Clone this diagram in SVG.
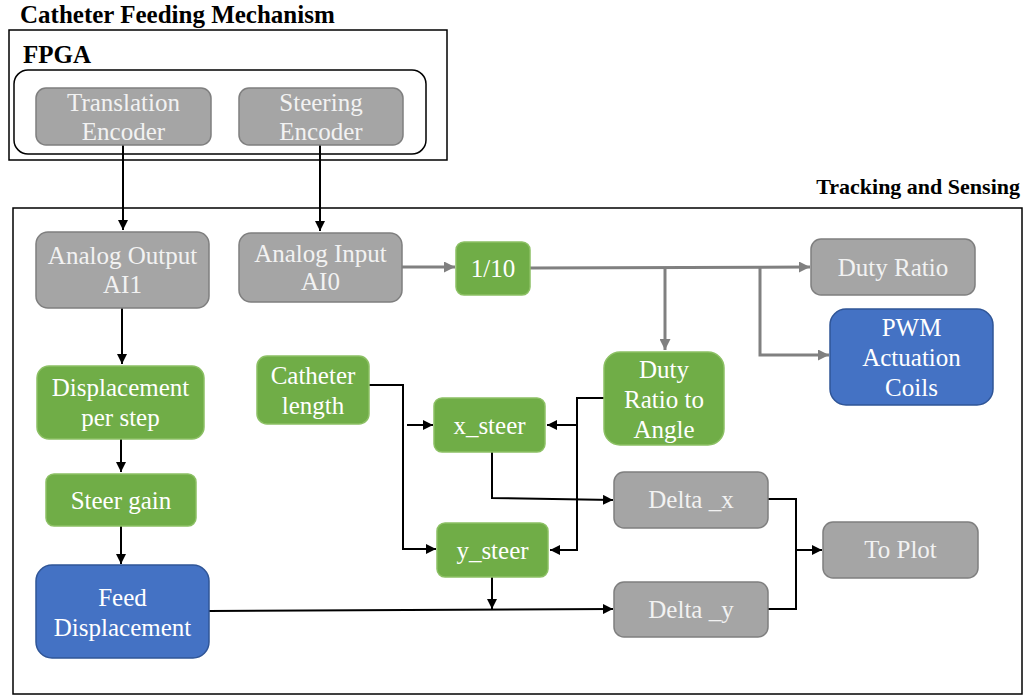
<svg xmlns="http://www.w3.org/2000/svg" width="1025" height="696" viewBox="0 0 1025 696">
<style>
text{font-family:'Liberation Serif','Times New Roman',serif}
.lbl{font-size:25px;text-anchor:middle}
.hdr{font-weight:bold;fill:#000}
.gray rect{fill:#A5A5A5;stroke:#7F7F7F;stroke-width:1.5}
.gray text{fill:#F2F2F2}
.green rect{fill:#70AD47;stroke:#8CC064;stroke-width:1.5}
.green text{fill:#fff}
.blue rect{fill:#4472C4;stroke:#2F5597;stroke-width:1.5}
.blue text{fill:#fff}
.frame{fill:none;stroke:#000;stroke-width:1.5}
.k{fill:none;stroke:#000;stroke-width:2}
.g{fill:none;stroke:#808080;stroke-width:3}
</style>
<defs>
<marker id="ak" viewBox="0 0 10 10" refX="10" refY="5" markerWidth="10" markerHeight="10" markerUnits="userSpaceOnUse" orient="auto"><path d="M0,0 L10,5 L0,10 z" fill="#000"/></marker>
<marker id="ag" viewBox="0 0 10 10" refX="10" refY="5" markerWidth="11" markerHeight="11" markerUnits="userSpaceOnUse" orient="auto"><path d="M0,0 L10,5 L0,10 z" fill="#808080"/></marker>
</defs>
<rect width="1025" height="696" fill="#fff"/>
<g id="frames">
<text class="hdr" x="20" y="23" font-size="25">Catheter Feeding Mechanism</text>
<rect class="frame" x="9" y="30" width="438" height="130"/>
<text class="hdr" x="23" y="63" font-size="25">FPGA</text>
<rect class="frame" x="14" y="70" width="412" height="84" rx="14"/>
<text class="hdr" x="1020" y="194" font-size="22" text-anchor="end">Tracking and Sensing</text>
<rect class="frame" x="13" y="208" width="1009" height="486"/>
</g>
<g id="connectors">
<path class="k" d="M123,145 V230" marker-end="url(#ak)"/>
<path class="k" d="M320,145 V231" marker-end="url(#ak)"/>
<path class="g" d="M402,267 H455" marker-end="url(#ag)"/>
<path class="g" d="M530,268 L810,267" marker-end="url(#ag)"/>
<path class="g" d="M665,268 V350" marker-end="url(#ag)"/>
<path class="g" d="M760,268 V355 H829" marker-end="url(#ag)"/>
<path class="k" d="M122,308 V364" marker-end="url(#ak)"/>
<path class="k" d="M121,439 V472" marker-end="url(#ak)"/>
<path class="k" d="M121,526 V564" marker-end="url(#ak)"/>
<path class="k" d="M369,385 H403 V549 H436" marker-end="url(#ak)"/>
<path class="k" d="M407,425 H433" marker-end="url(#ak)"/>
<path class="k" d="M604,398 H577 V550 H550" marker-end="url(#ak)"/>
<path class="k" d="M577,425 H547" marker-end="url(#ak)"/>
<path class="k" d="M492,452 V498 L613,500" marker-end="url(#ak)"/>
<path class="k" d="M492,577 V609" marker-end="url(#ak)"/>
<path class="k" d="M209,611 L613,609" marker-end="url(#ak)"/>
<path class="k" d="M768,499 H796 V609 H768"/>
<path class="k" d="M796,550 H822" marker-end="url(#ak)"/>
</g>
<g id="translation-encoder" class="gray"><rect x="36" y="88" width="175" height="57" rx="10"/><text class="lbl" x="123.5" y="111">Translation</text><text class="lbl" x="123.5" y="140">Encoder</text></g>
<g id="steering-encoder" class="gray"><rect x="239" y="88" width="164" height="57" rx="10"/><text class="lbl" x="321" y="111">Steering</text><text class="lbl" x="321" y="140">Encoder</text></g>
<g id="analog-output" class="gray"><rect x="36" y="232" width="173" height="76" rx="12"/><text class="lbl" x="122.5" y="264">Analog Output</text><text class="lbl" x="122.5" y="293">AI1</text></g>
<g id="analog-input" class="gray"><rect x="239" y="233" width="163" height="69" rx="12"/><text class="lbl" x="320.5" y="262">Analog Input</text><text class="lbl" x="320.5" y="290">AI0</text></g>
<g id="one-tenth" class="green"><rect x="456" y="242" width="74" height="53" rx="8"/><text class="lbl" x="493" y="277">1/10</text></g>
<g id="duty-ratio" class="gray"><rect x="811" y="239" width="164" height="56" rx="10"/><text class="lbl" x="893" y="276">Duty Ratio</text></g>
<g id="pwm" class="blue"><rect x="830" y="309" width="163" height="96" rx="16"/><text class="lbl" x="911.5" y="336">PWM</text><text class="lbl" x="911.5" y="366">Actuation</text><text class="lbl" x="911.5" y="396">Coils</text></g>
<g id="catheter-length" class="green"><rect x="257" y="356" width="112" height="68" rx="10"/><text class="lbl" x="313" y="384">Catheter</text><text class="lbl" x="313" y="414">length</text></g>
<g id="displacement-per-step" class="green"><rect x="37" y="366" width="167" height="73" rx="12"/><text class="lbl" x="120.5" y="396">Displacement</text><text class="lbl" x="120.5" y="426">per step</text></g>
<g id="duty-ratio-to-angle" class="green"><rect x="604" y="352" width="120" height="93" rx="16"/><text class="lbl" x="664" y="378">Duty</text><text class="lbl" x="664" y="408">Ratio to</text><text class="lbl" x="664" y="438">Angle</text></g>
<g id="x-steer" class="green"><rect x="434" y="398" width="111" height="54" rx="8"/><text class="lbl" x="489.5" y="434">x_steer</text></g>
<g id="y-steer" class="green"><rect x="437" y="523" width="111" height="54" rx="8"/><text class="lbl" x="492.5" y="559">y_steer</text></g>
<g id="steer-gain" class="green"><rect x="46" y="474" width="150" height="52" rx="8"/><text class="lbl" x="121" y="509">Steer gain</text></g>
<g id="feed-displacement" class="blue"><rect x="36" y="565" width="173" height="93" rx="16"/><text class="lbl" x="122.5" y="606">Feed</text><text class="lbl" x="122.5" y="636">Displacement</text></g>
<g id="delta-x" class="gray"><rect x="614" y="472" width="154" height="56" rx="10"/><text class="lbl" x="691" y="508">Delta _x</text></g>
<g id="delta-y" class="gray"><rect x="614" y="582" width="154" height="55" rx="10"/><text class="lbl" x="691" y="618">Delta _y</text></g>
<g id="to-plot" class="gray"><rect x="823" y="522" width="155" height="56" rx="10"/><text class="lbl" x="900.5" y="558">To Plot</text></g>
</svg>
